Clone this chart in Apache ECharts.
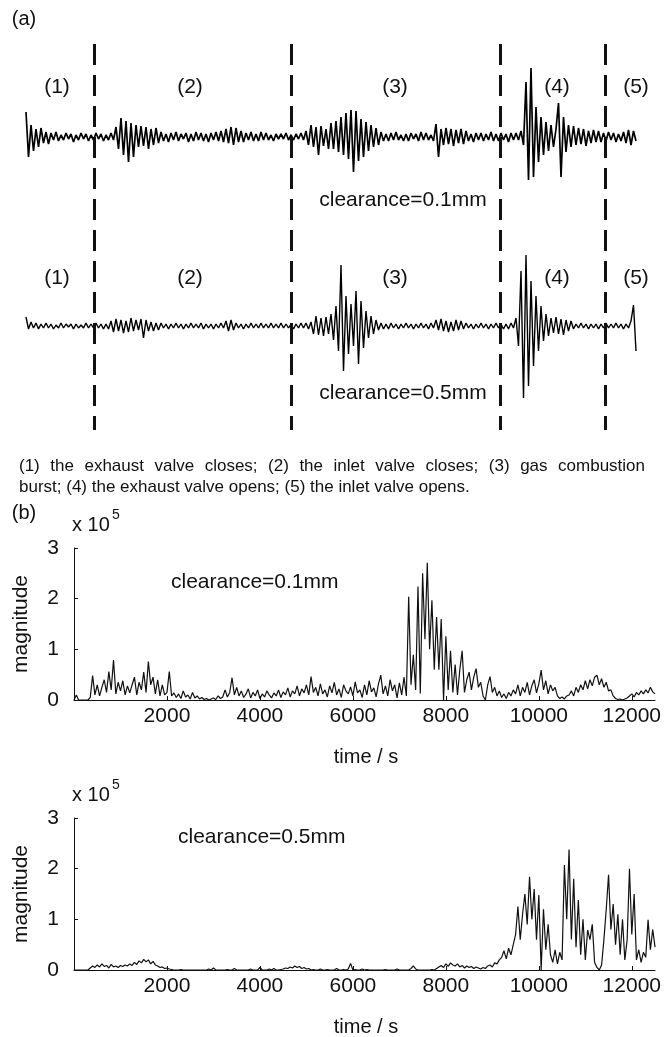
<!DOCTYPE html>
<html><head><meta charset="utf-8">
<script src="https://cdn.jsdelivr.net/npm/echarts@6/dist/echarts.min.js"></script>
<style>html,body{margin:0;padding:0;background:#fff}#c{width:664px;height:1037px}</style>
</head><body><div id="c"></div>
<script>
// (a) vibration waveforms, sample index vs amplitude (arbitrary units)
const wave01 = [
25,-20,12,-14,8,-10,9,-6,5,-7,
4,-3,5,-4,2,-3,4,-2,3,-5,2,-3,4,-2,3,-4,2,
-3,4,-2,3,-4,2,-3,4,-3,
10,-12,19,-18,16,-25,14,-20,12,
-10,11,-9,10,-12,8,-8,9,-6,
5,-4,3,-5,4,-3,5,-4,3,-2,4,-5,3,-4,5,-3,4,-4,3,-5,4,-3,5,-4,6,-5,
8,-6,10,-8,9,-5,6,
-5,4,-3,5,-4,3,-4,5,-3,4,-3,2,-4,3,-2,3,-2,4,-3,
2,-3,3,-2,4,-3,
6,-8,12,-10,10,-18,11,-9,8,-12,
14,-12,16,-15,20,-18,24,-22,27,-35,26,-24,18,-20,15,-14,12,-10,9,-8,
5,-4,3,-4,4,-3,5,-3,2,-4,3,-4,4,-2,3,-4,5,-3,4,-3,2,-4,
13,-20,8,
-8,9,-7,8,-9,7,-6,8,-7,6,
-4,3,-5,4,-3,4,-4,3,-3,5,-4,3,-4,4,-3,3,-5,4,-3,4,-3,
6,-8,55,-43,69,-40,
30,-25,20,-18,15,-14,12,-10,8,34,-40,20,-15,12,
-10,11,-8,9,-7,8,-9,6,-6,7,-5,6,-5,4,
-4,5,-3,4,-5,3,-4,5,-6,7,-8,6,-4
];
const wave05 = [
9,-3,4,-2,3,-3,2,-2,3,-2,2,-3,1,-2,3,-2,2,-1,2,-3,2,-2,1,-2,3,-2,2,
-2,3,-2,2,-3,2,-3,
5,-6,7,-5,6,-7,5,-6,8,-5,6,-4,7,-12,6,-5,4,-5,3,-4,
3,-2,2,-3,2,-2,3,-2,2,-3,2,-2,3,-2,2,-2,3,-3,2,-2,2,-3,2,-2,3,-2,5,-5,6,-4,3,-2,2,-3,2,-2,3,-2,2,-2,3,-2,2,-2,3,-2,2,-2,3,-2,2,-2,
2,-3,2,-2,3,-2,3,-3,4,
-8,10,-9,8,-10,9,-8,
12,-14,20,-25,61,-45,30,-28,22,-20,35,-38,25,-22,15,-12,10,-8,6,
-4,3,-3,2,-3,3,-2,2,-3,2,-2,3,-2,2,-3,2,-2,3,-2,2,-3,3,-2,
6,-4,7,-5,5,-6,4,-5,6,-4,5,-3,
3,-2,2,-3,2,-2,3,-2,2,-3,2,-2,3,-2,2,-3,2,-3,3,-2,
8,-20,55,-72,71,-60,45,-40,
30,-25,20,-15,12,-10,8,
-7,9,-8,7,-9,6,-5,5,
-3,2,-2,3,-2,2,-3,2,-2,2,-3,2,-2,3,-2,2,-2,3,-2,2,-3,2,-2,
5,21,-25
];
const segmentBounds = [27.2, 106, 189.6, 231.6]; // sample index of dashed separators
const stageLabels = ['(1)', '(2)', '(3)', '(4)', '(5)'];

// (b) magnitude (in thousands) sampled every 50 s from 0 to 12500 s
const timeStep = 50;
const mag01 = [
0,10,0,0,0,0,0,
5,48,10,30,8,25,40,15,56,20,79,12,35,18,38,10,28,14,30,45,10,35,20,55,15,76,30,45,12,40,8,30,10,15,56,8,
14,5,12,3,18,6,10,2,15,4,8,2,5,1,3,0,2,4,1,8,3,6,
20,6,15,44,10,25,8,18,5,12,22,4,15,8,20,3,12,6,18,10,4,14,8,20,5,16,10,24,6,18,12,28,8,22,14,30,
10,46,15,25,8,32,12,20,6,28,14,35,10,22,5,30,18,12,26,8,36,14,20,5,30,10,38,16,24,6,32,49,12,28,8,40,18,30,4,34,10,45,8,
204,30,89,20,224,13,250,120,271,100,197,60,164,60,160,0,126,20,97,15,70,10,60,97,15,40,55,20,45,62,25,35,8,0,30,46,15,25,8,
18,5,12,3,15,8,20,
12,30,8,25,15,35,10,28,40,14,32,59,20,38,12,30,18,25,8,
3,6,2,8,
10,18,8,25,15,30,20,38,22,40,28,45,49,30,42,25,35,18,20,8,
3,1,2,0,2,4,
8,12,6,15,10,18,12,20,14,25,16,12
];
const mag05 = [
0,0,0,0,0,0,0,
4,8,5,10,6,12,7,9,4,11,6,8,5,9,7,10,
8,12,9,15,11,18,14,21,16,20,12,17,10,
8,5,6,3,4,2,1,0,
0,0,1,0,0,0,0,0,0,0,0,0,0,0,2,0,4,0,0,0,0,0,1,0,0,3,0,0,0,0,0,0,2,0,0,0,5,0,0,0,2,0,3,0,0,1,
2,4,3,6,4,8,5,7,3,5,2,3,
0,1,0,0,2,0,0,1,0,0,0,3,0,0,1,0,2,13,0,1,0,0,2,0,1,0,0,0,0,0,0,0,1,0,0,0,0,2,0,0,0,0,0,3,8,2,0,0,0,0,0,0,1,0,
3,6,9,5,12,7,14,10,8,12,6,9,4,8,5,7,3,6,4,2,
5,3,8,10,6,14,12,20,
25,38,22,43,30,50,
70,125,60,110,150,90,184,100,160,60,148,0,120,40,90,30,
15,40,12,35,20,
207,100,238,60,180,45,
138,30,100,20,79,60,90,15,5,0,10,60,
120,188,80,130,50,110,30,100,20,60,
200,70,
150,20,40,15,
35,25,99,40,80,45
];
const xTicks = [2000, 4000, 6000, 8000, 10000, 12000];
const yTickStep = 100; // thousands => 1 x 10^5
const captionLine1 = '(1) the exhaust valve closes; (2) the inlet valve closes; (3) gas combustion';
const captionLine2 = 'burst; (4) the exhaust valve opens; (5) the inlet valve opens.';

const FF = '"Liberation Sans", Arial, Helvetica, sans-serif';
const INK = '#111';
function txt(x, y, text, size, align, rot) {
  return {
    type: 'text', x: x, y: y, rotation: rot || 0, silent: true,
    style: { text: text, font: size + 'px ' + FF, fill: INK,
      textAlign: align || 'center', textVerticalAlign: 'middle',
      align: align || 'center', verticalAlign: 'middle' }
  };
}

const chart = echarts.init(document.getElementById('c'), null, { renderer: 'canvas' });

const waveX = { type: 'value', min: 0, max: 244, show: false };
function magX(gi) {
  return {
    gridIndex: gi, type: 'value', min: 0, max: 12500,
    axisLine: { show: true, lineStyle: { color: INK, width: 1 } },
    axisTick: { show: true, inside: true, length: 4, customValues: xTicks, lineStyle: { color: INK } },
    axisLabel: { customValues: xTicks, fontSize: 21, fontFamily: FF, color: INK, margin: 6, formatter: v => String(v) },
    splitLine: { show: false }
  };
}
function magY(gi) {
  return {
    gridIndex: gi, type: 'value', min: 0, max: 300, interval: yTickStep,
    axisLine: { show: true, lineStyle: { color: INK, width: 1 } },
    axisTick: { show: true, inside: true, length: 4, lineStyle: { color: INK } },
    axisLabel: { fontSize: 21, fontFamily: FF, color: INK, margin: 15, formatter: v => String(v / yTickStep) },
    splitLine: { show: false }
  };
}

const graphic = [
  txt(24, 19, '(a)', 20),
  txt(24, 513, '(b)', 20),
  txt(403, 200, 'clearance=0.1mm', 21),
  txt(403, 393, 'clearance=0.5mm', 21),
  txt(19, 487, captionLine2, 17, 'left'),
  txt(72, 525, 'x 10', 20, 'left'),
  txt(112, 515, '5', 14, 'left'),
  txt(72, 795, 'x 10', 20, 'left'),
  txt(112, 785, '5', 14, 'left'),
  txt(21, 624, 'magnitude', 21, 'center', Math.PI / 2),
  txt(21, 894, 'magnitude', 21, 'center', Math.PI / 2),
  txt(171, 582, 'clearance=0.1mm', 21, 'left'),
  txt(178, 837, 'clearance=0.5mm', 21, 'left'),
  txt(366, 757, 'time / s', 20),
  txt(366, 1027, 'time / s', 20)
];
// justified first caption line, from x=19 to x=645
(function () {
  const ctx = document.createElement('canvas').getContext('2d');
  ctx.font = '17px ' + FF;
  const words = captionLine1.split(' ');
  const widths = words.map(w => ctx.measureText(w).width);
  const total = widths.reduce((a, b) => a + b, 0);
  const gap = (645 - 19 - total) / (words.length - 1);
  let x = 19;
  words.forEach((w, k) => { graphic.push(txt(x, 466, w, 17, 'left')); x += widths[k] + gap; });
})();
const labelX = [57, 190, 395, 557, 636];
stageLabels.forEach((s, k) => {
  graphic.push(txt(labelX[k], 87, s, 21));
  graphic.push(txt(labelX[k], 278, s, 21));
});

const option = {
  animation: false,
  backgroundColor: '#fff',
  grid: [
    { left: 26, width: 610, top: 44, height: 386 },
    { left: 26, width: 610, top: 57, height: 160 },
    { left: 26, width: 610, top: 246, height: 160 },
    { left: 74, width: 585, top: 548, height: 152 },
    { left: 74, width: 585, top: 818, height: 152 }
  ],
  xAxis: [
    Object.assign({ gridIndex: 0 }, waveX),
    Object.assign({ gridIndex: 1 }, waveX),
    Object.assign({ gridIndex: 2 }, waveX),
    magX(3), magX(4)
  ],
  yAxis: [
    { gridIndex: 0, type: 'value', min: 0, max: 1, inverse: true, show: false },
    { gridIndex: 1, type: 'value', min: -80, max: 80, show: false },
    { gridIndex: 2, type: 'value', min: -80, max: 80, show: false },
    magY(3), magY(4)
  ],
  series: [
    {
      type: 'line', xAxisIndex: 0, yAxisIndex: 0, data: [], silent: true,
      markLine: {
        silent: true, symbol: 'none', label: { show: false },
        lineStyle: { type: [21, 10], width: 3, color: '#111' },
        data: segmentBounds.map(b => ({ xAxis: b }))
      }
    },
    { type: 'line', xAxisIndex: 1, yAxisIndex: 1, data: wave01.map((v, i) => [i, v]),
      showSymbol: false, lineStyle: { color: '#000', width: 1.7 }, silent: true },
    { type: 'line', xAxisIndex: 2, yAxisIndex: 2, data: wave05.map((v, i) => [i, v]),
      showSymbol: false, lineStyle: { color: '#000', width: 1.4 }, silent: true },
    { type: 'line', xAxisIndex: 3, yAxisIndex: 3, data: mag01.map((v, i) => [i * timeStep, v]),
      showSymbol: false, lineStyle: { color: '#111', width: 1.2 }, silent: true },
    { type: 'line', xAxisIndex: 4, yAxisIndex: 4, data: mag05.map((v, i) => [i * timeStep, v]),
      showSymbol: false, lineStyle: { color: '#111', width: 1.2 }, silent: true }
  ],
  graphic: graphic
};
chart.setOption(option);
</script>
</body></html>
